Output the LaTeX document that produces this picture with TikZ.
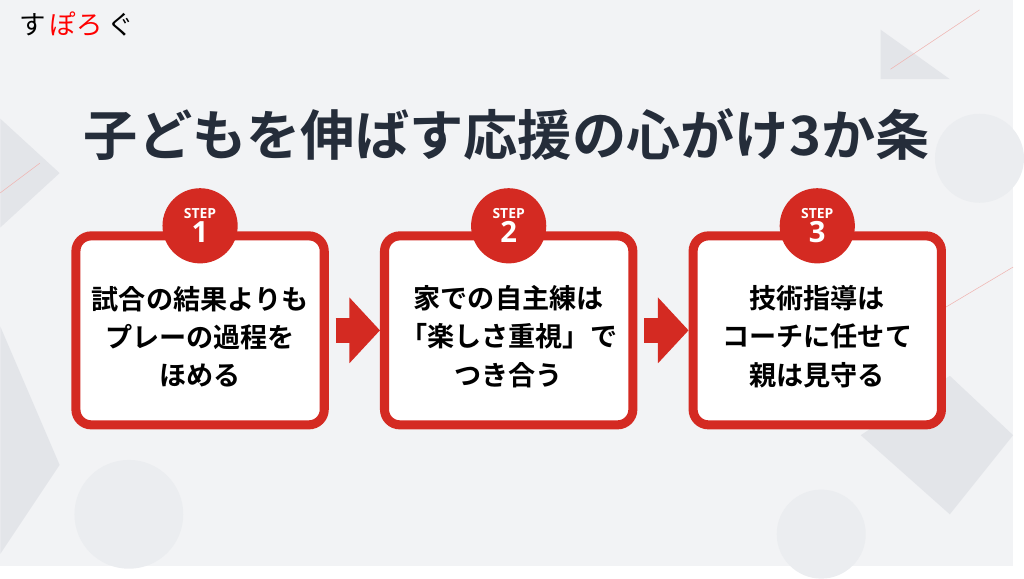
\documentclass[tikz,border=0pt]{standalone}
\usepackage{fontspec}
\newfontfamily\jp{Noto Sans CJK JP}[BoldFont={Noto Sans CJK JP Bold}]
\newfontfamily\lat{Open Sans}
\usetikzlibrary{positioning,arrows.meta}
\definecolor{stepred}{HTML}{D42A22}
\definecolor{navy}{HTML}{252D3A}
\definecolor{bg}{HTML}{F2F3F5}
\definecolor{deco}{HTML}{E3E5E9}
\tikzset{
    stepbox/.style={draw=stepred, line width=6.5pt, fill=white, rounded corners=11pt,
        minimum width=251\unit, minimum height=191\unit, align=center,
        font=\jp\bfseries\fontsize{19.5}{27.5}\selectfont, text=black},
    badge/.style={circle, fill=stepred, minimum size=76\unit, inner sep=0pt,
        text=white, align=center, font=\lat\bfseries},
    bigarrow/.style={draw=stepred, line width=18pt, -{Triangle[length=22pt,width=46pt]}, shorten <=5pt}
}
\newcommand{\unit}{pt*0.7113}
\begin{document}
\begin{tikzpicture}[x=0.025cm, y=-0.025cm]
    % background
    \fill[bg] (0,0) rectangle (1024,572);
    \fill[deco] (0,330) -- (60,470) -- (0,560) -- cycle;
    \fill[deco] (0,120) -- (60,175) -- (0,230) -- cycle;
    \fill[deco] (890,30) -- (960,80) -- (890,80) -- cycle;
    \fill[deco] (870,440) -- (960,380) -- (1024,440) -- (960,520) -- cycle;
    \fill[deco!70] (130,520) circle (55);
    \fill[deco!70] (990,160) circle (45);
    \fill[deco!70] (830,540) circle (45);
    \draw[stepred!35] (0,195) -- (40,165);
    \draw[stepred!35] (900,70) -- (990,10);
    \draw[stepred!35] (940,320) -- (1024,270);
    \useasboundingbox (0,0) rectangle (1024,572);

    % logo and title
    \node[font=\jp\fontsize{19}{19}\selectfont, anchor=west] (logo) at (14,24)
        {す\,\textcolor{red}{ぽろ}\,ぐ};
    \node[font=\jp\bfseries\fontsize{39}{39}\selectfont, text=navy] (title) at (512,136)
        {子どもを伸ばす応援の心がけ3か条};

    % steps
    \node[stepbox] (box1) at (202,334) {\\[-2pt]試合の結果よりも\\プレーの過程を\\ほめる};
    \node[stepbox] (box2) at (514,334) {\\[-2pt]家での自主練は\\「楽しさ重視」で\\つき合う};
    \node[stepbox] (box3) at (826,334) {\\[-2pt]技術指導は\\コーチに任せて\\親は見守る};

    \foreach \i in {1,2,3} {
        \node[badge] (badge\i) at ([yshift=4pt]box\i.north) {%
            \fontsize{10}{10}\selectfont STEP\\[1pt]
            \fontsize{21}{21}\selectfont \i};
    }

    \draw[bigarrow] (box1.east) -- (box2.west);
    \draw[bigarrow] (box2.east) -- (box3.west);
\end{tikzpicture}
\end{document}
